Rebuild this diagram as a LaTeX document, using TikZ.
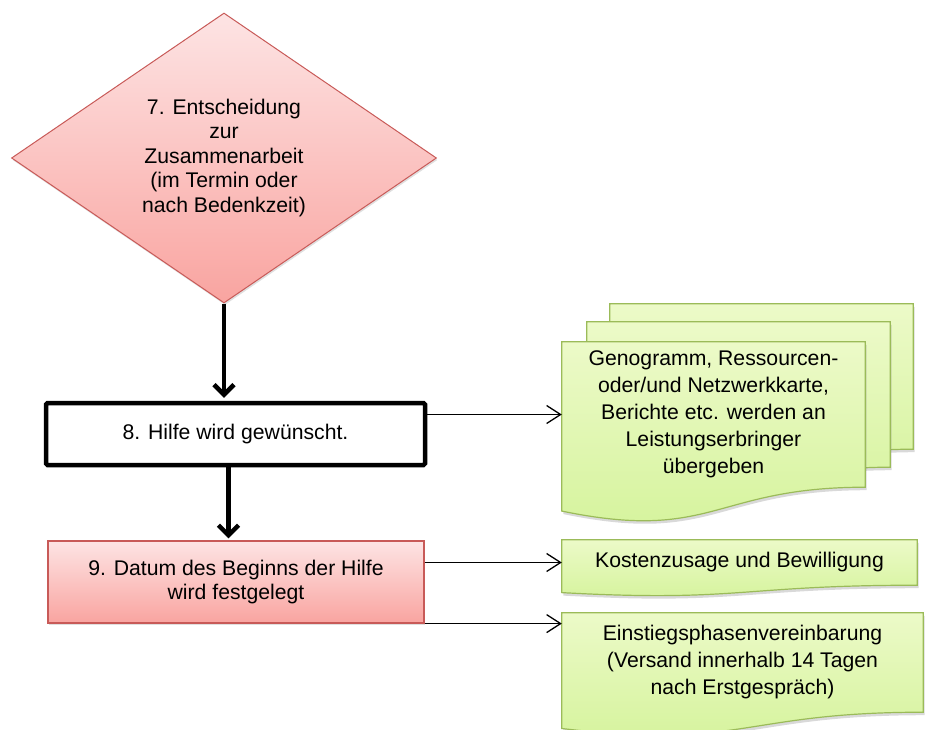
\documentclass[tikz,border=0pt]{standalone}
\usepackage{fontspec}
\setmainfont{Liberation Sans}
\usetikzlibrary{calc, shapes.geometric, positioning, shadows, backgrounds, arrows.meta}
\definecolor{pinkTop}{RGB}{253,228,228}
\definecolor{pinkBot}{RGB}{249,164,160}
\definecolor{pinkLine}{RGB}{200,90,88}
\definecolor{greenTop}{RGB}{236,250,200}
\definecolor{greenBot}{RGB}{212,243,154}
\definecolor{greenLine}{RGB}{155,187,89}
% document shape with wavy bottom: node, x offset, y offset, height of node
\newcommand\docshape[4]{\draw[docline] ($(#1.north west)+(#2,#3)$) -- ($(#1.north east)+(#2,#3)$) -- ($(#1.south east)+(#2,#3)$) .. controls ($(#1.south)+(#2,#3)$) and ($(#1.south)+(#2,#3+0.3815*#4)$) .. ($(#1.south west)+(#2,#3+0.1646*#4)$) -- cycle;}

\begin{document}
\begin{tikzpicture}[x=1pt,y=-1pt,
  txt/.style={font=\fontsize{21.2pt}{24.5pt}\selectfont, align=center, inner sep=0pt},
  doctxt/.style={font=\fontsize{21.2pt}{27pt}\selectfont, align=center, inner sep=0pt},
  decision/.style={txt, diamond, draw=pinkLine, line width=1pt, top color=pinkTop, bottom color=pinkBot,
    minimum width=425pt, minimum height=290pt, drop shadow={shadow xshift=1pt, shadow yshift=-2pt, opacity=.25}},
  plainbox/.style={txt, rectangle, draw=black, line width=4.5pt, rounded corners=1.5pt, fill=white},
  pinkbox/.style={txt, rectangle, draw=pinkLine, line width=1.2pt, top color=pinkTop, bottom color=pinkBot,
    drop shadow={shadow xshift=1pt, shadow yshift=-2pt, opacity=.25}},
  docline/.style={draw=greenLine, line width=1.2pt, top color=greenTop, bottom color=greenBot,
    drop shadow={shadow xshift=1.5pt, shadow yshift=-3pt, opacity=.3}},
  bigarrow/.style={line width=4.5pt, -{Straight Barb[length=10pt,width=20pt]}},
  smallarrow/.style={line width=1.3pt, -{Straight Barb[length=14pt,width=18pt]}}]
\useasboundingbox (0,0) rectangle (928,729);

% left column
\node[decision] (dec) at (224,158) {7. Entscheidung\\zur\\Zusammenarbeit\\(im Termin oder\\nach Bedenkzeit)};
\node[plainbox, minimum width=379pt, minimum height=62pt] (wish) at (235.5,434) {8. Hilfe wird gewünscht.};
\node[pinkbox, minimum width=376pt, minimum height=82pt] (start) at (236,582) {9. Datum des Beginns der Hilfe\\wird festgelegt};

% right column
\node[doctxt, minimum width=303pt, minimum height=145pt] (papers) at (713.5,414.5) {Genogramm, Ressourcen-\\oder/und Netzwerkkarte,\\Berichte etc. werden an\\Leistungserbringer\\übergeben};
\node[doctxt, minimum width=355pt, minimum height=45pt] (costs) at (739.5,562.5) {Kostenzusage und Bewilligung};
\node[doctxt, minimum width=361pt, minimum height=99pt] (phase) at (742.5,662.5) {Einstiegsphasenvereinbarung\\(Versand innerhalb 14 Tagen\\nach Erstgespräch)};

\begin{scope}[on background layer]
\docshape{papers}{48}{-38}{145}
\docshape{papers}{25}{-20}{145}
\docshape{papers}{0}{0}{145}
\docshape{costs}{0}{0}{45}
\docshape{phase}{0}{0}{99}
\end{scope}

% connectors
\draw[bigarrow, shorten >=3pt] (dec.south) -- (dec.south |- wish.north);
\draw[bigarrow, shorten >=2pt] ([xshift=-7pt]wish.south) -- ([xshift=-7pt]wish.south |- start.north);
\draw[smallarrow] (wish.east |- papers.west) -- (papers.west);
\draw[smallarrow] (start.east |- costs.west) -- (costs.west);
\draw[smallarrow] (start.south east) -- (start.south east -| phase.west);
\end{tikzpicture}
\end{document}
